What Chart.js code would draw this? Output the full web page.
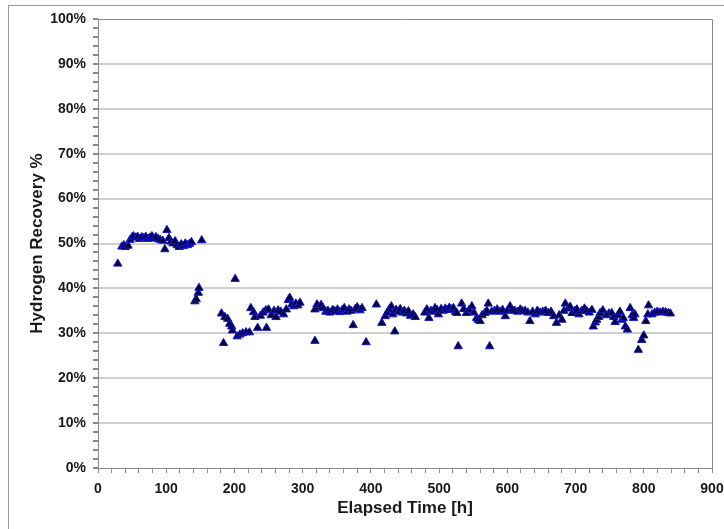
<!DOCTYPE html>
<html>
<head>
<meta charset="utf-8">
<script src="https://cdn.jsdelivr.net/npm/chart.js@4.4.1/dist/chart.umd.min.js"></script>
<style>
  html, body { margin: 0; padding: 0; background: #fff; }
  #wrap { width: 724px; height: 529px; position: relative; }
</style>
</head>
<body>
<div id="wrap"><canvas id="chart"></canvas></div>
<script>
// elapsed time [h] and hydrogen recovery [%]
var hours = [
  29, 35, 38, 40, 44, 47, 50, 52, 55, 58, 61, 64, 67, 70, 73, 76, 79, 82, 85, 88,
  91, 95, 98, 101, 104, 107, 110, 113, 116, 119, 122, 125, 128, 131, 134, 137,
  142, 144, 147, 148, 152,
  181, 184, 186, 190, 193, 196, 197, 201, 204, 208, 212, 217, 222, 224, 228, 230,
  234, 238, 242, 246, 247, 250, 254, 258, 261, 264, 268, 272, 276, 279, 281, 284,
  287, 290, 293, 296,
  318, 318, 321, 324, 327, 330, 334, 337, 340, 344, 347, 351, 354, 358, 361, 365,
  368, 371, 374, 377, 380, 384, 387, 393, 408, 416, 421, 424, 427, 430, 432, 435,
  437, 440, 443, 446, 449, 452, 455, 458, 462, 465,
  479, 482, 485, 488, 491, 494, 497, 499, 503, 506, 509, 512, 515, 518, 521, 524,
  526, 528, 533, 536, 540, 544, 548, 551, 555, 557, 560, 563, 567, 570, 572, 574,
  577, 581, 585, 589, 593, 597, 600, 604, 607, 611, 615, 619, 622, 626, 630, 633,
  637, 641, 644, 648, 652, 656, 660, 664, 668, 672, 676, 680, 683, 685, 689, 692,
  695, 699, 702, 705, 709, 713, 716, 720, 724, 726, 729, 731, 734, 736, 740, 745,
  749, 753, 756, 758, 762, 765, 768, 770, 773, 776, 780, 783, 785, 787, 792, 797,
  800, 803, 806, 807, 812, 816, 820, 824, 828, 832, 836, 839
];
var recovery = [
  45.5, 49.3, 49.6, 49.2, 49.5, 50.8, 51.4, 51.6, 51.3, 51.5, 51.0, 51.4, 51.2, 51.5, 51.0, 51.3, 51.6, 51.1, 51.4, 51.0,
  50.8, 50.6, 48.7, 53.0, 51.2, 50.4, 50.0, 50.5, 49.6, 49.2, 49.8, 49.4, 50.0, 49.6, 49.9, 50.3,
  37.1, 37.6, 39.0, 40.1, 50.7,
  34.4, 27.8, 33.6, 33.2, 32.1, 31.5, 30.6, 42.1, 29.3, 29.7, 30.0, 30.2, 30.2, 35.6, 34.7, 33.6,
  31.2, 33.9, 34.6, 35.1, 31.2, 35.3, 34.0, 35.0, 33.6, 35.1, 34.8, 34.2, 35.3, 37.4, 37.9, 36.4,
  36.0, 36.6, 36.2, 36.8,
  28.3, 35.3, 36.4, 35.8, 36.3, 35.6, 34.8, 35.0, 34.6, 35.2, 34.9, 35.3, 34.7, 35.2, 35.6, 34.8,
  35.3, 35.0, 31.8, 35.4, 35.8, 35.1, 35.6, 28.0, 36.4, 32.3, 33.8, 34.6, 35.3, 36.0, 34.2, 30.4,
  35.2, 34.8, 35.4, 34.6, 35.0, 34.4, 34.9, 33.9, 34.2, 33.6,
  34.6, 35.3, 33.4, 35.0, 34.8, 35.6, 35.2, 34.2, 35.4, 35.0, 35.5, 35.2, 35.7, 35.3, 35.6, 34.8,
  34.5, 27.1, 36.6, 35.4, 34.5, 35.2, 36.0, 34.6, 33.4, 33.0, 32.7, 34.0, 34.5, 35.0, 36.6, 27.1,
  34.8, 35.0, 35.3, 34.8, 35.2, 33.8, 35.0, 36.0, 35.2, 35.0, 34.8, 35.3, 34.9, 35.0, 34.6, 32.7,
  34.8, 34.2, 35.0, 34.6, 34.8, 35.0, 34.5, 34.8, 33.8, 32.3, 34.0, 33.0, 35.0, 36.6, 35.5, 35.9,
  34.5, 35.0, 35.3, 34.2, 35.0, 35.5, 35.0, 34.6, 35.2, 31.5, 32.4, 33.0, 33.6, 34.5, 35.1, 34.0,
  34.4, 34.5, 33.6, 32.5, 34.0, 34.8, 33.0, 33.4, 31.5, 30.8, 35.6, 34.0, 33.4, 34.2, 26.3, 28.5,
  29.5, 32.7, 34.2, 36.2, 34.2, 34.6, 34.8, 34.6, 34.8, 34.7, 34.5, 34.4
];

var xTicks = [0, 100, 200, 300, 400, 500, 600, 700, 800, 900];
var yTicks = [0, 10, 20, 30, 40, 50, 60, 70, 80, 90, 100];

var points = hours.map(function(h, i) {
  return { x: h, y: recovery[i] };
});

var textColor = '#1a1a1a';
var axisGray = '#8a8a8a';

// white background, outer frame and plot-area box
var framePlugin = {
  id: 'frame',
  beforeDraw: function(chart) {
    var ctx = chart.ctx;
    ctx.save();
    ctx.fillStyle = '#fff';
    ctx.fillRect(0, 0, chart.width, chart.height);
    ctx.strokeStyle = '#9a9a9a';
    ctx.lineWidth = 1;
    ctx.strokeRect(8.5, 5.5, chart.width + 20, chart.height + 20);
    ctx.restore();
  },
  beforeDatasetsDraw: function(chart) {
    var a = chart.chartArea;
    var ctx = chart.ctx;
    ctx.save();
    ctx.strokeStyle = axisGray;
    ctx.lineWidth = 1;
    ctx.beginPath();
    ctx.moveTo(Math.round(a.left) + 0.5, Math.round(a.top) + 0.5);
    ctx.lineTo(Math.round(a.right) + 0.5, Math.round(a.top) + 0.5);
    ctx.lineTo(Math.round(a.right) + 0.5, Math.round(a.bottom) + 0.5);
    ctx.stroke();
    ctx.restore();
  }
};

var ctx = document.getElementById('chart').getContext('2d');
var chart = new Chart(ctx, {
  type: 'scatter',
  data: {
    datasets: [{
      label: 'Hydrogen Recovery',
      data: points,
      pointStyle: 'triangle',
      pointRadius: 4.8,
      backgroundColor: '#000033',
      borderColor: '#1414d2',
      borderWidth: 1
    }]
  },
  options: {
    responsive: true,
    maintainAspectRatio: false,
    animation: false,
    layout: { padding: { left: 10, right: 12, top: 19, bottom: 0 } },
    plugins: {
      legend: { display: false },
      tooltip: { enabled: false }
    },
    scales: {
      x: {
        type: 'linear',
        min: 0,
        max: 900,
        afterFit: function(scale) {
          scale.height = 61;
          scale.paddingRight = 0;
          scale.paddingLeft = 0;
        },
        afterBuildTicks: function(scale) {
          var t = [];
          for (var v = 0; v <= 900; v += 20) t.push({ value: v });
          scale.ticks = t;
        },
        ticks: {
          autoSkip: false,
          maxRotation: 0,
          padding: 8,
          color: textColor,
          font: { family: 'Liberation Sans, Arial, sans-serif', size: 14, weight: 'bold' },
          callback: function(v) { return xTicks.indexOf(v) >= 0 ? String(v) : ''; }
        },
        grid: {
          drawOnChartArea: false,
          drawTicks: true,
          tickLength: 5,
          tickColor: axisGray
        },
        border: { color: axisGray, width: 1 },
        title: {
          display: true,
          text: 'Elapsed Time [h]',
          color: textColor,
          font: { family: 'Liberation Sans, Arial, sans-serif', size: 17, weight: 'bold' },
          padding: { top: 0, bottom: 10 }
        }
      },
      y: {
        type: 'linear',
        min: 0,
        max: 100,
        afterFit: function(scale) { scale.width = 88; },
        afterBuildTicks: function(scale) {
          var t = [];
          for (var v = 0; v <= 100; v += 2) t.push({ value: v });
          scale.ticks = t;
        },
        ticks: {
          autoSkip: false,
          padding: 7,
          color: textColor,
          font: { family: 'Liberation Sans, Arial, sans-serif', size: 14, weight: 'bold' },
          callback: function(v) { return yTicks.indexOf(v) >= 0 ? v + '%' : ''; }
        },
        grid: {
          drawTicks: true,
          tickLength: 5,
          tickColor: axisGray,
          lineWidth: 2,
          color: function(c) {
            if (!c.tick) return 'transparent';
            var v = c.tick.value;
            return (v % 10 === 0 && v > 0 && v < 100) ? '#cfcfcf' : 'transparent';
          }
        },
        border: { color: axisGray, width: 1 },
        title: {
          display: true,
          text: 'Hydrogen Recovery %',
          color: textColor,
          font: { family: 'Liberation Sans, Arial, sans-serif', size: 17, weight: 'bold' },
          padding: { top: 17, bottom: 0 }
        }
      }
    }
  },
  plugins: [framePlugin]
});
</script>
</body>
</html>
